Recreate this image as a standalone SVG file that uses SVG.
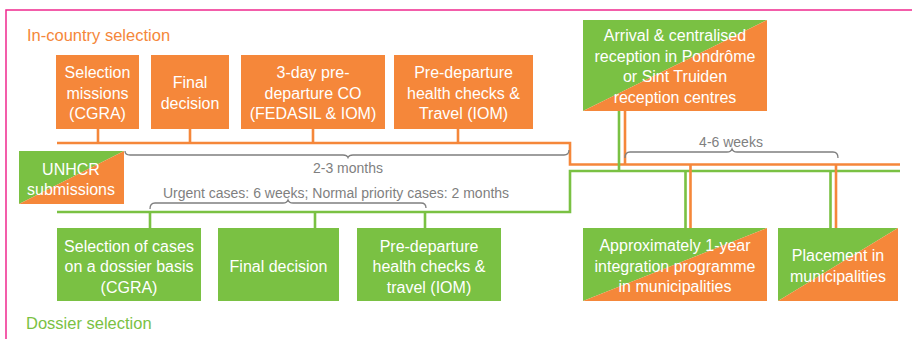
<svg xmlns="http://www.w3.org/2000/svg" width="912" height="339" viewBox="0 0 912 339">
<style>
.bt{font-family:"Liberation Sans",Arial,sans-serif;font-size:16px;fill:#ffffff;text-anchor:middle}
.gt{font-family:"Liberation Sans",Arial,sans-serif;font-size:14px;fill:#7f7f7f;text-anchor:middle}
.ttl{font-family:"Liberation Sans",Arial,sans-serif;font-size:16.5px}
.o{fill:#F5873A}
.g{fill:#7AC143}
.ol{fill:none;stroke:#F5873A;stroke-width:2.6}
.gl{fill:none;stroke:#7AC143;stroke-width:2.6}
.br{fill:none;stroke:#7f7f7f;stroke-width:1.3}
</style>
<rect width="912" height="339" fill="#ffffff"/>
<path d="M6,339 V10 H912" fill="none" stroke="#F0288F" stroke-width="1.5"/>
<text class="ttl" x="27" y="41" fill="#F5873A">In-country selection</text>
<text class="ttl" x="26" y="329" fill="#7AC143">Dossier selection</text>

<g id="connectors">
  <path class="gl" d="M57,212 H570 V171 H900"/>
  <path class="ol" d="M57,143 H570 V164.5 H900"/>
  <path class="ol" d="M98,129 V143 M190,129 V143 M313,129 V143 M458,129 V143"/>
  <path class="gl" d="M150,212 V228 M315,212 V228 M425,212 V228"/>
  <path class="ol" d="M625,111 V164.5"/>
  <path class="gl" d="M619,111 V171"/>
  <path class="gl" d="M685.5,171 V228 M830.5,171 V228"/>
  <path class="ol" d="M690.5,164.5 V228 M836,164.5 V228"/>
  <path class="br" d="M125,151 Q125,155 130,155 H343 Q347,155 348,157.5 Q349,155 353,155 H564 Q569,155 569,150"/>
  <path class="br" d="M150,209 Q150,203 155,203 H283 Q287,203 288,200 Q289,203 293,203 H421 Q426,203 426,208"/>
  <path class="br" d="M625,158 Q625,152 630,152 H727 Q731,152 732,149 Q733,152 737,152 H833 Q838,152 838,158"/>
</g>

<g id="brace-labels">
  <text class="gt" x="348" y="173">2-3 months</text>
  <text class="gt" x="336" y="198">Urgent cases: 6 weeks; Normal priority cases: 2 months</text>
  <text class="gt" x="731" y="147">4-6 weeks</text>
</g>

<g id="selection-missions">
  <rect class="o" x="56" y="55" width="83" height="74"/>
  <text class="bt" x="97.5" y="78">Selection</text>
  <text class="bt" x="97.5" y="98.5">missions</text>
  <text class="bt" x="97.5" y="119">(CGRA)</text>
</g>
<g id="final-decision-ic">
  <rect class="o" x="151" y="55" width="78" height="74"/>
  <text class="bt" x="190" y="88">Final</text>
  <text class="bt" x="190" y="109">decision</text>
</g>
<g id="pre-departure-co">
  <rect class="o" x="241" y="55" width="144" height="74"/>
  <text class="bt" x="313" y="78">3-day pre-</text>
  <text class="bt" x="313" y="98.5">departure CO</text>
  <text class="bt" x="313" y="119">(FEDASIL &amp; IOM)</text>
</g>
<g id="health-checks-ic">
  <rect class="o" x="394" y="55" width="139" height="74"/>
  <text class="bt" x="463.5" y="78">Pre-departure</text>
  <text class="bt" x="463.5" y="98.5">health checks &amp;</text>
  <text class="bt" x="463.5" y="119">Travel (IOM)</text>
</g>

<g id="unhcr">
  <polygon class="g" points="19,151 124,151 19,204"/>
  <polygon class="o" points="124,151 124,204 19,204"/>
  <text class="bt" x="71" y="175">UNHCR</text>
  <text class="bt" x="71" y="195">submissions</text>
</g>

<g id="dossier-cases">
  <rect class="g" x="57" y="228" width="144" height="73"/>
  <text class="bt" x="129" y="252">Selection of cases</text>
  <text class="bt" x="129" y="272">on a dossier basis</text>
  <text class="bt" x="129" y="292.5">(CGRA)</text>
</g>
<g id="final-decision-d">
  <rect class="g" x="218" y="228" width="121" height="73"/>
  <text class="bt" x="278.5" y="272">Final decision</text>
</g>
<g id="health-checks-d">
  <rect class="g" x="357" y="228" width="144" height="73"/>
  <text class="bt" x="429" y="252">Pre-departure</text>
  <text class="bt" x="429" y="272">health checks &amp;</text>
  <text class="bt" x="429" y="292.5">travel (IOM)</text>
</g>

<g id="arrival">
  <polygon class="g" points="583,20 767,20 583,111"/>
  <polygon class="o" points="767,20 767,111 583,111"/>
  <text class="bt" x="675" y="41">Arrival &amp; centralised</text>
  <text class="bt" x="675" y="61.7">reception in Pondrôme</text>
  <text class="bt" x="675" y="82.4">or Sint Truiden</text>
  <text class="bt" x="675" y="103">reception centres</text>
</g>

<g id="integration">
  <polygon class="g" points="583,228 767,228 583,301"/>
  <polygon class="o" points="767,228 767,301 583,301"/>
  <text class="bt" x="675" y="251">Approximately 1-year</text>
  <text class="bt" x="675" y="271.5">integration programme</text>
  <text class="bt" x="675" y="292">in municipalities</text>
</g>

<g id="placement">
  <polygon class="g" points="778,228 898,228 778,301"/>
  <polygon class="o" points="898,228 898,301 778,301"/>
  <text class="bt" x="838" y="261">Placement in</text>
  <text class="bt" x="838" y="281.7">municipalities</text>
</g>
</svg>
